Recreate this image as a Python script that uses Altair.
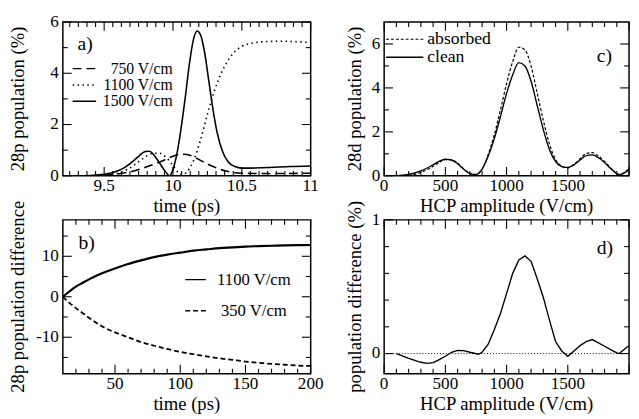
import altair as alt
import pandas as pd
import numpy as np

FONT = "Liberation Serif"

# ---------------- Panel a: 28p population (%) vs time (ps)
a750_t = [9.2, 9.4, 9.5, 9.6, 9.7, 9.8, 9.9, 10.0, 10.05, 10.1, 10.15, 10.2, 10.25, 10.3, 10.35, 10.4, 10.45, 10.5, 10.6, 10.8, 11.0]
a750_v = [0.0, 0.0, 0.02, 0.07, 0.17, 0.33, 0.53, 0.76, 0.84, 0.83, 0.74, 0.6, 0.46, 0.34, 0.24, 0.17, 0.12, 0.1, 0.09, 0.09, 0.1]

a1100_t = [9.2, 9.4, 9.5, 9.55, 9.6, 9.65, 9.7, 9.75, 9.8, 9.85, 9.9, 9.95, 10.0, 10.04, 10.07, 10.1, 10.15, 10.2, 10.25, 10.3, 10.35, 10.4, 10.45, 10.5, 10.55, 10.6, 10.7, 10.8, 10.9, 11.0]
a1100_v = [0.0, 0.0, 0.02, 0.05, 0.1, 0.2, 0.35, 0.55, 0.74, 0.87, 0.88, 0.72, 0.4, 0.12, 0.05, 0.15, 0.6, 1.4, 2.4, 3.3, 4.0, 4.5, 4.85, 5.05, 5.15, 5.2, 5.24, 5.25, 5.23, 5.2]

a1500_t = [9.2, 9.3, 9.4, 9.45, 9.5, 9.55, 9.6, 9.65, 9.7, 9.75, 9.8, 9.83, 9.86, 9.9, 9.94, 9.975, 10.0, 10.03, 10.06, 10.09, 10.12, 10.15, 10.175, 10.2, 10.23, 10.26, 10.29, 10.32, 10.36, 10.4, 10.45, 10.5, 10.55, 10.7, 10.85, 11.0]
a1500_v = [0.0, 0.0, 0.01, 0.03, 0.06, 0.11, 0.2, 0.33, 0.52, 0.76, 0.95, 0.96, 0.82, 0.52, 0.2, 0.0, 0.25, 0.9, 1.9, 3.1, 4.4, 5.35, 5.65, 5.5, 4.8, 3.7, 2.6, 1.7, 0.95, 0.55, 0.36, 0.3, 0.3, 0.32, 0.36, 0.38]

# ---------------- Panel b: 28p population difference vs time (ps)
b_t = [10, 15, 20, 25, 30, 40, 50, 60, 70, 80, 90, 100, 110, 120, 130, 140, 150, 160, 170, 180, 190, 200]
b1100_v = [0.0, 1.3, 2.5, 3.4, 4.3, 5.8, 7.0, 8.1, 9.0, 9.8, 10.4, 10.9, 11.4, 11.7, 12.0, 12.2, 12.4, 12.5, 12.6, 12.7, 12.75, 12.8]
b350_v = [0.0, -1.5, -2.8, -4.0, -5.2, -7.3, -8.8, -10.0, -11.2, -12.1, -12.9, -13.6, -14.2, -14.7, -15.2, -15.6, -16.0, -16.3, -16.6, -16.8, -17.0, -17.1]

# ---------------- Panel c: 28d population (%) vs HCP amplitude
c_f = [0, 100, 200, 300, 400, 450, 500, 550, 600, 650, 700, 750, 800, 850, 900, 950, 1000, 1050, 1100, 1150, 1200, 1250, 1300, 1350, 1400, 1450, 1500, 1550, 1600, 1650, 1700, 1750, 1800, 1850, 1900, 1920, 2000]
c_clean = [0.0, 0.01, 0.06, 0.22, 0.5, 0.66, 0.75, 0.72, 0.55, 0.3, 0.1, 0.06, 0.3, 0.9, 1.7, 2.7, 3.75, 4.6, 5.15, 5.0, 4.3, 3.2, 2.1, 1.2, 0.65, 0.42, 0.38, 0.5, 0.72, 0.92, 0.95, 0.82, 0.6, 0.33, 0.1, 0.05, 0.28]
c_absorbed = [0.0, 0.01, 0.025, 0.155, 0.43, 0.615, 0.73, 0.73, 0.57, 0.32, 0.11, 0.055, 0.31, 0.97, 1.88, 3.0, 4.2, 5.2, 5.85, 5.73, 4.99, 3.76, 2.52, 1.45, 0.74, 0.44, 0.36, 0.52, 0.78, 1.01, 1.055, 0.9, 0.655, 0.36, 0.105, 0.05, 0.34]

# ---------------- Panel d: population difference (%) vs HCP amplitude
d_f = [100, 200, 300, 350, 400, 450, 500, 550, 600, 650, 700, 770, 800, 850, 900, 950, 1000, 1050, 1100, 1150, 1200, 1250, 1300, 1350, 1400, 1450, 1500, 1550, 1600, 1650, 1700, 1750, 1800, 1850, 1900, 1920, 2000]
d_diff = [0.0, -0.035, -0.065, -0.073, -0.068, -0.045, -0.02, 0.01, 0.024, 0.022, 0.01, -0.005, 0.01, 0.07, 0.18, 0.3, 0.45, 0.6, 0.7, 0.73, 0.69, 0.56, 0.42, 0.25, 0.09, 0.02, -0.02, 0.02, 0.06, 0.09, 0.105, 0.08, 0.055, 0.03, 0.005, 0.0, 0.06]

# ---------------- tick values and labels
a_xlab = [9.5, 10, 10.5, 11]
a_xtxt = ["9.5", "10", "10.5", "11"]
a_xminor = [v for v in np.round(np.arange(9.25, 11.0001, 0.0625), 4) if v not in a_xlab]
a_ylab = [0, 2, 4, 6]
a_ytxt = ["0", "2", "4", "6"]
a_yminor = [1, 3, 5]
b_xlab = [50, 100, 150, 200]
b_xtxt = ["50", "100", "150", "200"]
b_xminor = [20, 30, 40, 60, 70, 80, 90, 110, 120, 130, 140, 160, 170, 180, 190]
b_ylab = [-10, 0, 10]
b_ytxt = ["-10", "0", "10"]
b_yminor = [-15, -5, 5, 15]
cd_xlab = [0, 500, 1000, 1500]
cd_xtxt = ["0", "500", "1000", "1500"]
cd_xmajor = [0, 500, 1000, 1500, 2000]
cd_xminor = [v for v in range(100, 2000, 100) if v % 500 != 0]
c_ylab = [0, 2, 4, 6]
c_ytxt = ["0", "2", "4", "6"]
c_yminor = [1, 3, 5]
d_ylab = [0, 1]
d_ytxt = ["0", "1"]
d_yminor = [0.2, 0.4, 0.6, 0.8]

W1, W2, H = 253, 250, 157
MAJ, MIN = 9, 5
LSIZE, TSIZE = 17.5, 19
one = pd.DataFrame({"k": [0]})


def frame(W, xs, ys, xmaj, xmin, ymaj, ymin, xlab, xtxt, ylab, ytxt, xtitle, ytitle, ytx):
    layers = []
    # inward ticks on all four sides
    for vals, ln in ((xmaj, MAJ), (xmin, MIN)):
        base = alt.Chart(pd.DataFrame({"tx": vals})).mark_rule(color="black", strokeWidth=1.1)
        xe = alt.X("tx:Q", scale=xs, axis=None)
        layers.append(base.encode(x=xe, y=alt.value(H), y2=alt.value(H - ln)))
        layers.append(base.encode(x=xe, y=alt.value(0), y2=alt.value(ln)))
    for vals, ln in ((ymaj, MAJ), (ymin, MIN)):
        base = alt.Chart(pd.DataFrame({"ty": vals})).mark_rule(color="black", strokeWidth=1.1)
        ye = alt.Y("ty:Q", scale=ys, axis=None)
        layers.append(base.encode(y=ye, x=alt.value(0), x2=alt.value(ln)))
        layers.append(base.encode(y=ye, x=alt.value(W), x2=alt.value(W - ln)))
    # tick labels
    layers.append(alt.Chart(pd.DataFrame({"tx": xlab, "lab": xtxt})).mark_text(
        font=FONT, fontSize=LSIZE, align="center", baseline="top", color="black").encode(
        x=alt.X("tx:Q", scale=xs, axis=None), y=alt.value(H + 2), text="lab:N"))
    layers.append(alt.Chart(pd.DataFrame({"ty": ylab, "lab": ytxt})).mark_text(
        font=FONT, fontSize=LSIZE, align="right", baseline="middle", color="black").encode(
        y=alt.Y("ty:Q", scale=ys, axis=None), x=alt.value(-4), text="lab:N"))
    # axis titles
    layers.append(alt.Chart(one).mark_text(
        text=xtitle, font=FONT, fontSize=TSIZE, align="center", baseline="alphabetic", color="black").encode(
        x=alt.value(W / 2), y=alt.value(H + 37)))
    layers.append(alt.Chart(one).mark_text(
        text=ytitle, font=FONT, fontSize=TSIZE, align="center", baseline="alphabetic", angle=270,
        color="black").encode(x=alt.value(ytx), y=alt.value(H / 2)))
    return layers


def label(txt, x, y, size=20, align="left"):
    return alt.Chart(one).mark_text(text=txt, font=FONT, fontSize=size, align=align,
                                    baseline="middle", color="black").encode(
        x=alt.value(x), y=alt.value(y))


def sample(x1, x2, y, dash, width=1.5):
    m = alt.Chart(one).mark_rule(color="black", strokeWidth=width, strokeDash=dash)
    return m.encode(x=alt.value(x1), x2=alt.value(x2), y=alt.value(y))


def line(df, xf, yf, xs, ys, width, dash=None, interp="monotone"):
    kw = dict(color="black", strokeWidth=width, clip=True, interpolate=interp)
    if dash:
        kw["strokeDash"] = dash
    return alt.Chart(df).mark_line(**kw).encode(
        x=alt.X(xf, scale=xs, axis=None), y=alt.Y(yf, scale=ys, axis=None))


# ---------------- panel a
xs_a = alt.Scale(domain=[9.2, 11], nice=False, zero=False)
ys_a = alt.Scale(domain=[0, 6], nice=False, zero=False)
df750 = pd.DataFrame({"t": a750_t, "v": a750_v})
df1100 = pd.DataFrame({"t": a1100_t, "v": a1100_v})
df1500 = pd.DataFrame({"t": a1500_t, "v": a1500_v})
panel_a = alt.layer(
    line(df1500, "t:Q", "v:Q", xs_a, ys_a, 1.6),
    line(df1100, "t:Q", "v:Q", xs_a, ys_a, 1.6, [1.5, 3.5]),
    line(df750, "t:Q", "v:Q", xs_a, ys_a, 1.6, [9, 5]),
    *frame(W1, xs_a, ys_a, a_xlab, a_xminor, a_ylab, a_yminor, a_xlab, a_xtxt, a_ylab, a_ytxt,
           "time (ps)", "28p population (%)", -40),
    label("a)", 15, 23),
    sample(10, 34, 47.6, [9, 5]), sample(10, 34, 64.3, [1.5, 3.5]), sample(10, 34, 81, [1, 0]),
    label("750 V/cm", 112, 47.6, 16, "right"),
    label("1100 V/cm", 112, 64.3, 16, "right"),
    label("1500 V/cm", 112, 81, 16, "right"),
).properties(width=W1, height=H)

# ---------------- panel b
xs_b = alt.Scale(domain=[10, 200], nice=False, zero=False)
ys_b = alt.Scale(domain=[-19, 19], nice=False, zero=False)
dfb = pd.DataFrame({"t": b_t, "s": b1100_v, "d": b350_v})
panel_b = alt.layer(
    line(dfb, "t:Q", "s:Q", xs_b, ys_b, 2.2),
    line(dfb, "t:Q", "d:Q", xs_b, ys_b, 1.8, [5, 3]),
    *frame(W1, xs_b, ys_b, b_xlab, b_xminor, b_ylab, b_yminor, b_xlab, b_xtxt, b_ylab, b_ytxt,
           "time (ps)", "28p population difference", -40),
    label("b)", 16, 24),
    sample(125, 146, 61, [1, 0]), sample(125, 146, 92.7, [5, 3]),
    label("1100 V/cm", 195, 61, 17, "center"),
    label("350 V/cm", 195, 92.7, 17, "center"),
).properties(width=W1, height=H)

# ---------------- panel c
xs_c = alt.Scale(domain=[0, 2000], nice=False, zero=False)
ys_c = alt.Scale(domain=[0, 7], nice=False, zero=False)
dfc = pd.DataFrame({"f": c_f, "clean": c_clean, "abs": c_absorbed})
panel_c = alt.layer(
    line(dfc, "f:Q", "clean:Q", xs_c, ys_c, 1.4),
    line(dfc, "f:Q", "abs:Q", xs_c, ys_c, 1.2, [3, 2]),
    *frame(W2, xs_c, ys_c, cd_xmajor, cd_xminor, c_ylab, c_yminor, cd_xlab, cd_xtxt, c_ylab, c_ytxt,
           "HCP amplitude (V/cm)", "28d population (%)", -24),
    label("c)", 217, 35),
    sample(2, 40, 17.6, [3, 2], 1.2), sample(2, 40, 36, [1, 0], 1.4),
    label("absorbed", 44, 17.6, 18),
    label("clean", 44, 36, 18),
).properties(width=W2, height=H)

# ---------------- panel d
xs_d = alt.Scale(domain=[0, 2000], nice=False, zero=False)
ys_d = alt.Scale(domain=[-0.15, 1], nice=False, zero=False)
dfd = pd.DataFrame({"f": d_f, "diff": d_diff})
zero = alt.Chart(pd.DataFrame({"z": [0]})).mark_rule(color="black", strokeWidth=1, strokeDash=[1, 2]).encode(
    y=alt.Y("z:Q", scale=ys_d, axis=None))
panel_d = alt.layer(
    zero,
    line(dfd, "f:Q", "diff:Q", xs_d, ys_d, 1.4, None, "linear"),
    *frame(W2, xs_d, ys_d, cd_xmajor, cd_xminor, d_ylab, d_yminor, cd_xlab, cd_xtxt, d_ylab, d_ytxt,
           "HCP amplitude (V/cm)", "population difference (%)", -24),
    label("d)", 217, 28.5),
).properties(width=W2, height=H)

chart = alt.concat(
    panel_a, panel_c, panel_b, panel_d, columns=2,
    spacing={"row": 45, "column": 75}, bounds="flush",
).properties(
    padding={"left": 0, "top": 0, "right": 0, "bottom": 0},
    background="white",
).configure_view(
    stroke="black", strokeWidth=1.5
)

chart.save("out.html", embed_options={"renderer": "svg", "actions": False})
